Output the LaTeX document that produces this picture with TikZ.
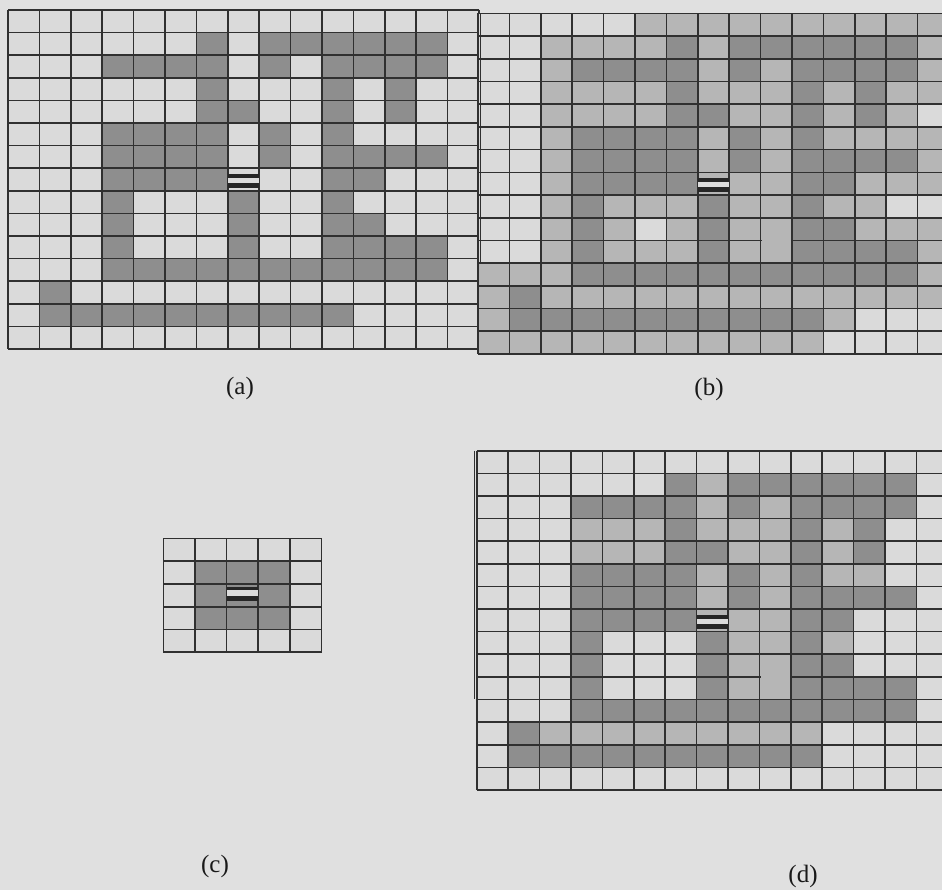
\documentclass[tikz,border=0pt]{standalone}
\usepackage{fontspec}
\setmainfont{Liberation Serif}
\definecolor{bg}{HTML}{E0E0E0}
\definecolor{cL}{HTML}{DADADA}
\definecolor{cM}{HTML}{B6B6B6}
\definecolor{cD}{HTML}{8E8E8E}
\definecolor{cS}{HTML}{DADADA}
\definecolor{cT}{HTML}{B6B6B6}
\definecolor{cU}{HTML}{8E8E8E}
\definecolor{gl}{HTML}{303030}
\tikzset{gline/.style={draw=gl,line width=1.6pt},
  lbl/.style={font=\fontsize{25}{30}\selectfont,text=black!90,inner sep=0pt}}
\newcommand\cellfills[5]{%
  \foreach \rowlist [count=\r from 0] in {#5} {
    \foreach \cc [count=\k from 0] in \rowlist {
      \fill[fill=c\cc] ({#1+\k*#3},{#2+\r*#4}) rectangle ++(#3,#4);
    }
  }%
}
\newcommand\gridlines[6]{%
  \foreach \i in {0,...,#5} \draw[gline] ({#1+\i*#3},#2) -- ({#1+\i*#3},{#2+#6*#4});
  \foreach \j in {0,...,#6} \draw[gline] (#1,{#2+\j*#4}) -- ({#1+#5*#3},{#2+\j*#4});%
}
\newcommand\symcell[7]{%
  \fill[black!85] (#1,{#2+#4}) rectangle ({#1+#3},{#2+#5});
  \fill[cL!95!white] (#1,{#2+#5}) rectangle ({#1+#3},{#2+#6});
  \fill[black!85] (#1,{#2+#6}) rectangle ({#1+#3},{#2+#7});%
}
\begin{document}
\begin{tikzpicture}[x=1pt,y=-1pt]
\useasboundingbox (0,0) rectangle (942,890);
\fill[bg] (0,0) rectangle (942,890);
\clip (0,0) rectangle (942,890);
% (a)
\cellfills{8}{10}{31.4}{22.6}{%
{L,L,L,L,L,L,L,L,L,L,L,L,L,L,L},
{L,L,L,L,L,L,D,L,D,D,D,D,D,D,L},
{L,L,L,D,D,D,D,L,D,L,D,D,D,D,L},
{L,L,L,L,L,L,D,L,L,L,D,L,D,L,L},
{L,L,L,L,L,L,D,D,L,L,D,L,D,L,L},
{L,L,L,D,D,D,D,L,D,L,D,L,L,L,L},
{L,L,L,D,D,D,D,L,D,L,D,D,D,D,L},
{L,L,L,D,D,D,D,S,L,L,D,D,L,L,L},
{L,L,L,D,L,L,L,D,L,L,D,L,L,L,L},
{L,L,L,D,L,L,L,D,L,L,D,D,L,L,L},
{L,L,L,D,L,L,L,D,L,L,D,D,D,D,L},
{L,L,L,D,D,D,D,D,D,D,D,D,D,D,L},
{L,D,L,L,L,L,L,L,L,L,L,L,L,L,L},
{L,D,D,D,D,D,D,D,D,D,D,L,L,L,L},
{L,L,L,L,L,L,L,L,L,L,L,L,L,L,L}}
\gridlines{8}{10}{31.4}{22.6}{15}{15}
\symcell{227.8}{168.2}{31.4}{5.5}{10}{15}{19.5}
% (b)
\cellfills{478}{13.5}{31.4}{22.7}{%
{L,L,L,L,L,M,M,M,M,M,M,M,M,M,M},
{L,L,M,M,M,M,D,M,D,D,D,D,D,D,M},
{L,L,M,D,D,D,D,M,D,M,D,D,D,D,M},
{L,L,M,M,M,M,D,M,M,M,D,M,D,M,M},
{L,L,M,M,M,M,D,D,M,M,D,M,D,M,L},
{L,L,M,D,D,D,D,M,D,M,D,M,M,M,M},
{L,L,M,D,D,D,D,M,D,M,D,D,D,D,M},
{L,L,M,D,D,D,D,T,M,M,D,D,M,M,M},
{L,L,M,D,M,M,M,D,M,M,D,M,M,L,L},
{L,L,M,D,M,L,M,D,M,M,D,D,M,M,M},
{L,L,M,D,M,M,M,D,M,M,D,D,D,D,M},
{M,M,M,D,D,D,D,D,D,D,D,D,D,D,M},
{M,D,M,M,M,M,M,M,M,M,M,M,M,M,M},
{M,D,D,D,D,D,D,D,D,D,D,M,L,L,L},
{M,M,M,M,M,M,M,M,M,M,M,L,L,L,L}}
\gridlines{478}{13.5}{31.4}{22.7}{15}{15}
\fill[cM] (761.8,239) rectangle (790.8,242);
\draw[gline] (480.6,13.5) -- (480.6,263.2);
\symcell{697.8}{172.4}{31.4}{5.5}{10}{15}{19.5}
% (c)
\cellfills{163.3}{538.5}{31.65}{22.75}{%
{L,L,L,L,L},
{L,D,D,D,L},
{L,D,U,D,L},
{L,D,D,D,L},
{L,L,L,L,L}}
\gridlines{163.3}{538.5}{31.65}{22.75}{5}{5}
\symcell{226.6}{584}{31.65}{2.5}{6}{11.5}{17}
% (d)
\cellfills{476.7}{450.7}{31.4}{22.62}{%
{L,L,L,L,L,L,L,L,L,L,L,L,L,L,L},
{L,L,L,L,L,L,D,M,D,D,D,D,D,D,L},
{L,L,L,D,D,D,D,M,D,M,D,D,D,D,L},
{L,L,L,M,M,M,D,M,M,M,D,M,D,L,L},
{L,L,L,M,M,M,D,D,M,M,D,M,D,L,L},
{L,L,L,D,D,D,D,M,D,M,D,M,M,L,L},
{L,L,L,D,D,D,D,M,D,M,D,D,D,D,L},
{L,L,L,D,D,D,D,T,M,M,D,D,L,L,L},
{L,L,L,D,L,L,L,D,M,M,D,M,L,L,L},
{L,L,L,D,L,L,L,D,M,M,D,D,L,L,L},
{L,L,L,D,L,L,L,D,M,M,D,D,D,D,L},
{L,L,L,D,D,D,D,D,D,D,D,D,D,D,L},
{L,D,M,M,M,M,M,M,M,M,M,L,L,L,L},
{L,D,D,D,D,D,D,D,D,D,D,L,L,L,L},
{L,L,L,L,L,L,L,L,L,L,L,L,L,L,L}}
\gridlines{476.7}{450.7}{31.4}{22.62}{15}{15}
\fill[cM] (760.5,675.4) rectangle (789.5,678.4);
\draw[gline] (474.6,450.7) -- (474.6,699);
\symcell{696.5}{609.0}{31.4}{5.5}{10}{15}{19.5}
% labels
\node[lbl] (la) at (240,388) {(a)};
\node[lbl] (lb) at (709,389) {(b)};
\node[lbl] (lc) at (215,866) {(c)};
\node[lbl] (ld) at (803,876) {(d)};
\end{tikzpicture}
\end{document}
